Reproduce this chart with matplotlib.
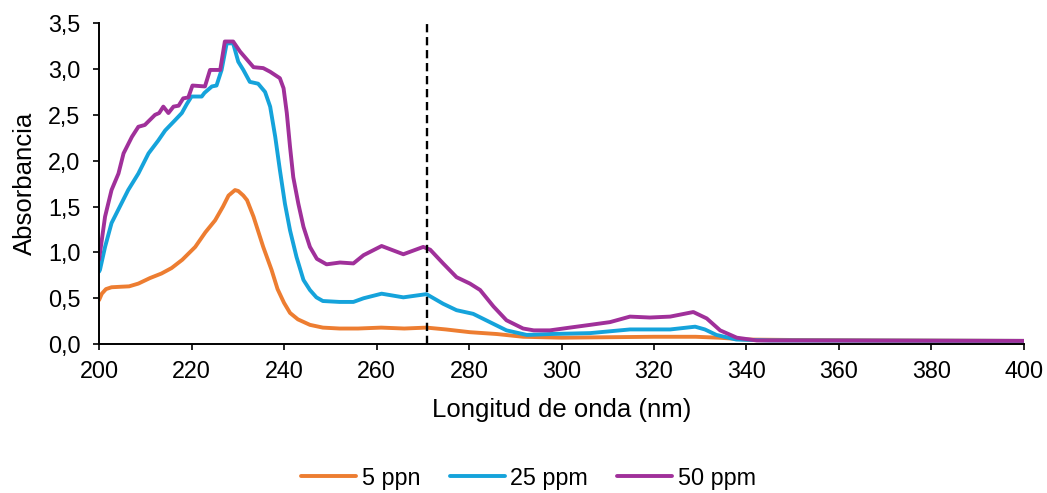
import matplotlib
matplotlib.use("Agg")
import matplotlib.pyplot as plt
from matplotlib.ticker import FuncFormatter, MultipleLocator

plt.rcParams['font.family'] = ['Liberation Sans', 'DejaVu Sans']

# Wavelength (nm) / absorbance pairs for each concentration
x_5 = [200, 200.6, 201.5, 202.7, 204.5, 206.5, 208.5, 211, 213.5, 215.7, 218, 220.8, 223,
       225.1, 226.8, 228, 229.4, 230.1, 231.2, 232, 233.4, 235.5, 237.3, 238.6, 240, 241.3,
       243, 245.6, 248.4, 252, 256, 261, 266, 270.8, 275, 280.2, 286, 291.7, 300, 310, 320,
       329, 334, 340, 350, 370, 400]
y_5 = [0.48, 0.55, 0.60, 0.62, 0.625, 0.63, 0.66, 0.72, 0.77, 0.83, 0.92, 1.06, 1.22,
       1.35, 1.50, 1.62, 1.68, 1.67, 1.62, 1.57, 1.39, 1.06, 0.81, 0.60, 0.45, 0.34,
       0.27, 0.21, 0.18, 0.17, 0.17, 0.18, 0.17, 0.18, 0.16, 0.13, 0.11, 0.08, 0.07, 0.075, 0.08,
       0.08, 0.07, 0.05, 0.045, 0.04, 0.035]

x_25 = [200, 200.2, 201.3, 202.7, 204.5, 206.3, 208.5, 210.7, 212.8, 214.3, 216.4, 217.9,
        219, 220, 222.2, 222.8, 224.4, 225.4, 226.5, 227.6, 228.4, 229, 230.1, 231.2, 232.6,
        234.4, 235.9, 237, 238.1, 239.1, 240.2, 241.3, 242.7, 244.2, 245.6, 247, 248.4, 252,
        255, 257.2, 261.1, 265.8, 270.8, 274.4, 277.3, 280.9, 284.5, 288.1, 292.5, 297.5,
        306.2, 310.5, 314.8, 319, 323.5, 328.9, 331, 333.5, 337.8, 345, 400]
y_25 = [0.79, 0.81, 1.06, 1.32, 1.50, 1.68, 1.86, 2.08, 2.22, 2.33, 2.44, 2.52,
        2.62, 2.70, 2.70, 2.74, 2.81, 2.82, 2.99, 3.28, 3.28, 3.28, 3.08, 2.99, 2.86,
        2.84, 2.75, 2.59, 2.26, 1.90, 1.53, 1.24, 0.95, 0.70, 0.59, 0.51, 0.47, 0.46,
        0.46, 0.50, 0.55, 0.51, 0.545, 0.44, 0.37, 0.33, 0.24, 0.15, 0.10, 0.11,
        0.12, 0.14, 0.16, 0.16, 0.16, 0.19, 0.16, 0.10, 0.05, 0.04, 0.035]

x_50 = [200, 201.3, 202.7, 204.2, 205.3, 207.1, 208.5, 209.9, 212.1, 213.0, 213.9, 215,
        216.1, 217.2, 218.2, 219.3, 220.2, 222.9, 224, 226.2, 227.2, 229, 230.5, 233.4,
        235.5, 237, 239.1, 239.9, 240.6, 241.3, 242, 243.1, 244.2, 245.6, 247.1, 249.2,
        252.1, 255, 257.2, 261.1, 265.8, 270.1, 271.6, 274.4, 277.3, 280.2, 282.4, 285.3,
        288.1, 291.7, 294, 297.5, 301.8, 306.2, 310.5, 314.8, 319.1, 323.5, 328.5, 331.4,
        334.3, 337.9, 342.2, 400]
y_50 = [0.92, 1.39, 1.68, 1.86, 2.08, 2.26, 2.37, 2.39, 2.50, 2.52, 2.59, 2.52,
        2.59, 2.60, 2.68, 2.69, 2.82, 2.81, 2.99, 2.99, 3.30, 3.30, 3.19, 3.02,
        3.01, 2.97, 2.90, 2.79, 2.52, 2.15, 1.82, 1.53, 1.28, 1.06, 0.93, 0.87,
        0.89, 0.88, 0.97, 1.07, 0.98, 1.06, 1.03, 0.88, 0.73, 0.66, 0.59, 0.41,
        0.26, 0.17, 0.15, 0.15, 0.18, 0.21, 0.24, 0.30, 0.29, 0.30, 0.35, 0.28,
        0.15, 0.07, 0.04, 0.035]

series_labels = ["5 ppn", "25 ppm", "50 ppm"]
series_colors = ["#ED7D31", "#15A3DB", "#A0309A"]
marker_wavelength = 271

fig = plt.figure(figsize=(10.47, 4.93), dpi=100)
ax = fig.add_axes([0.0946, 0.302, 0.978 - 0.0946, 0.953 - 0.302])

for xs, ys, lab, col in zip([x_5, x_25, x_50], [y_5, y_25, y_50], series_labels, series_colors):
    ax.plot(xs, ys, color=col, lw=2.8, label=lab, solid_joinstyle='round',
            solid_capstyle='round')

ax.axvline(marker_wavelength, ymin=0, ymax=1, color='black', lw=1.7,
           linestyle=(0, (3.5, 2)))

ax.set_xlim(200, 400)
ax.set_ylim(0, 3.5)
ax.xaxis.set_major_locator(MultipleLocator(20))
ax.yaxis.set_major_locator(MultipleLocator(0.5))
ax.yaxis.set_major_formatter(FuncFormatter(lambda v, p: f"{v:.1f}".replace('.', ',')))

for side in ['top', 'right']:
    ax.spines[side].set_visible(False)
for side in ['left', 'bottom']:
    ax.spines[side].set_color('black')
    ax.spines[side].set_linewidth(1.4)

ax.tick_params(axis='both', direction='out', length=4.5, width=1.2, labelsize=16.8,
               colors='black')
ax.tick_params(axis='x', pad=7)
ax.tick_params(axis='y', pad=9)
ax.set_xlabel("Longitud de onda (nm)", fontsize=18.5, labelpad=11)
ax.set_ylabel("Absorbancia", fontsize=18.5, labelpad=8)

fig.legend(loc='center', bbox_to_anchor=(0.505, 1 - 478 / 493), ncol=3, frameon=False,
           fontsize=16.8, handlelength=2.35, columnspacing=1.25, handletextpad=0.25)

fig.savefig("out.png", dpi=100)
